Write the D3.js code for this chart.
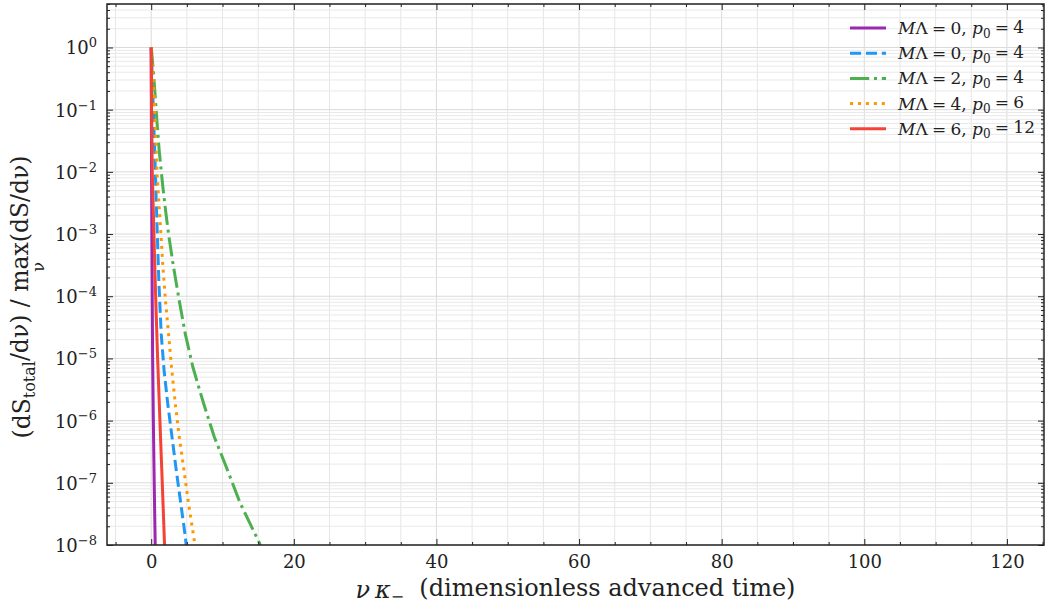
<!DOCTYPE html>
<html>
<head>
<meta charset="utf-8">
<script src="https://cdn.jsdelivr.net/npm/d3@7"></script>
<style>
  body { margin: 0; background: #fff; }
  text { font-family: "DejaVu Serif", serif; fill: #222; }
</style>
</head>
<body>
<script>
// values (x = v*kappa, y = normalised flux)
var purpleX = [0, 0.02, 0.05, 0.09, 0.14, 0.2, 0.3, 0.42, 0.56, 0.6];
var purpleY = [1, 1e-1, 1e-2, 1e-3, 1e-4, 1e-5, 1e-6, 1e-7, 1e-8, 7e-9];

var blueX = [0, 0.3, 0.58, 0.7, 1.08, 1.4, 1.8, 2.31, 3.51, 4.77, 5.0];
var blueY = [1, 1e-1, 1e-2, 3.5e-3, 1.6e-4, 2.5e-5, 6.5e-6, 1.9e-6, 1.6e-7, 1.4e-8, 7.9e-9];

var greenX = [0, 0.32, 0.8, 1.12, 1.58, 1.96, 2.43, 3.13, 3.93, 4.77, 5.85, 7.34, 8.84, 10.7, 12.48, 15.19, 15.6];
var greenY = [1, 0.4, 6.6e-2, 2.2e-2, 6.5e-3, 2.7e-3, 1e-3, 2.95e-4, 8.5e-5, 2.5e-5, 7.2e-6, 1.9e-6, 5.5e-7, 1.6e-7, 4.7e-8, 1.07e-8, 7.9e-9];

var orangeX = [0, 0.42, 0.66, 0.84, 1.12, 1.36, 1.64, 2.0, 2.43, 2.85, 3.37, 3.93, 4.59, 5.23, 6.03, 6.25];
var orangeY = [1, 0.166, 2.8e-2, 8.7e-3, 2.7e-3, 1e-3, 2.95e-4, 8.5e-5, 2.5e-5, 7.2e-6, 1.9e-6, 5.5e-7, 1.6e-7, 4.7e-8, 1.2e-8, 7.9e-9];

var redX = [0, 0.05, 0.15, 0.38, 0.62, 0.9, 1.22, 1.55, 1.87, 1.95];
var redY = [1, 1e-1, 1e-2, 1e-3, 1e-4, 1e-5, 1e-6, 1e-7, 1e-8, 7.5e-9];

var legendML = ["0", "0", "2", "4", "6"];
var legendP0 = ["4", "4", "4", "6", "12"];
var xTicks = [0, 20, 40, 60, 80, 100, 120];
var yExps = [0, -1, -2, -3, -4, -5, -6, -7, -8];

var margin = {top: 4, right: 2, bottom: 60, left: 107},
    width = 1046 - margin.left - margin.right,
    height = 605 - margin.top - margin.bottom;

var x = d3.scaleLinear().domain([-6.2, 125.2]).range([0, width]);
var y = d3.scaleLog().domain([1e-8, 5.0]).range([height, 0]);

var svg = d3.select("body")
    .append("svg")
        .attr("width", width + margin.left + margin.right)
        .attr("height", height + margin.top + margin.bottom)
    .append("g")
        .attr("transform", "translate(" + margin.left + "," + margin.top + ")");

svg.append("clipPath").attr("id", "clip")
  .append("rect").attr("width", width).attr("height", height);

// minor positions
var xMinor = d3.range(-5, 126, 5).filter(function(v) { return v % 20 !== 0; });
var yMajor = yExps.map(function(e) { return Math.pow(10, e); });
var yMinor = [];
yExps.forEach(function(e) {
  for (var m = 2; m <= 9; m++) {
    var v = m * Math.pow(10, e);
    if (v <= 5.0) yMinor.push(v);
  }
});

// grid
var grid = svg.append("g");
grid.selectAll(".gxm").data(xMinor).enter().append("line")
    .attr("x1", x).attr("x2", x).attr("y1", 0).attr("y2", height)
    .style("stroke", "#e6e6e6").style("stroke-width", 1);
grid.selectAll(".gx").data(xTicks).enter().append("line")
    .attr("x1", x).attr("x2", x).attr("y1", 0).attr("y2", height)
    .style("stroke", "#dadada").style("stroke-width", 1);
grid.selectAll(".gym").data(yMinor).enter().append("line")
    .attr("y1", y).attr("y2", y).attr("x1", 0).attr("x2", width)
    .style("stroke", "#e9e9e9").style("stroke-width", 1);
grid.selectAll(".gy").data(yMajor).enter().append("line")
    .attr("y1", y).attr("y2", y).attr("x1", 0).attr("x2", width)
    .style("stroke", "#dadada").style("stroke-width", 1);

// curves
var plotline = d3.line()
    .x(function(d) { return x(d[0]); })
    .y(function(d) { return y(d[1]); });

var curves = [
  {xs: purpleX, ys: purpleY, color: "#9c27b0", dash: null},
  {xs: blueX, ys: blueY, color: "#2196f3", dash: "11.1,4.8"},
  {xs: greenX, ys: greenY, color: "#4caf50", dash: "19.2,4.8,3,4.8"},
  {xs: orangeX, ys: orangeY, color: "#ff9800", dash: "3,4.95"},
  {xs: redX, ys: redY, color: "#f44336", dash: null}
];

var plot = svg.append("g").attr("clip-path", "url(#clip)");
curves.forEach(function(c) {
  plot.append("path")
      .attr("d", plotline(d3.zip(c.xs, c.ys)))
      .style("fill", "none")
      .style("stroke", c.color)
      .style("stroke-width", 3)
      .style("stroke-dasharray", c.dash);
});

// axes, ticks pointing inward on all four sides
function styleAxis(g) {
  g.select(".domain").remove();
  g.selectAll(".tick line").style("stroke", "#222").style("stroke-width", 1);
  g.selectAll("text").style("font-family", "DejaVu Serif").style("font-size", "18px").style("fill", "#222");
}

svg.append("g").attr("transform", "translate(0," + height + ")")
    .call(d3.axisBottom(x).tickValues(xTicks).tickFormat(d3.format("d")).tickSizeInner(-6).tickSizeOuter(0).tickPadding(10))
    .call(styleAxis);
svg.append("g").attr("transform", "translate(0," + height + ")")
    .call(d3.axisBottom(x).tickValues(xMinor).tickFormat("").tickSizeInner(-3).tickSizeOuter(0))
    .call(styleAxis);
svg.append("g")
    .call(d3.axisTop(x).tickValues(xTicks).tickFormat("").tickSizeInner(-6).tickSizeOuter(0))
    .call(styleAxis);
svg.append("g")
    .call(d3.axisTop(x).tickValues(xMinor).tickFormat("").tickSizeInner(-3).tickSizeOuter(0))
    .call(styleAxis);

svg.append("g")
    .call(d3.axisLeft(y).tickValues(yMajor).tickFormat("").tickSizeInner(-6).tickSizeOuter(0))
    .call(styleAxis);
svg.append("g")
    .call(d3.axisLeft(y).tickValues(yMinor).tickFormat("").tickSizeInner(-3).tickSizeOuter(0))
    .call(styleAxis);
svg.append("g").attr("transform", "translate(" + width + ",0)")
    .call(d3.axisRight(y).tickValues(yMajor).tickFormat("").tickSizeInner(-6).tickSizeOuter(0))
    .call(styleAxis);
svg.append("g").attr("transform", "translate(" + width + ",0)")
    .call(d3.axisRight(y).tickValues(yMinor).tickFormat("").tickSizeInner(-3).tickSizeOuter(0))
    .call(styleAxis);

// y tick labels 10^k
yExps.forEach(function(e) {
  var t = svg.append("text")
      .attr("x", -10)
      .attr("y", y(Math.pow(10, e)) + 7)
      .attr("text-anchor", "end")
      .style("font-size", "18px");
  t.append("tspan").text("10");
  t.append("tspan").attr("dy", "-0.55em").style("font-size", "13px")
      .text(e === 0 ? "0" : "\u2212" + (-e));
});

// frame
svg.append("rect")
    .attr("width", width).attr("height", height)
    .style("fill", "none").style("stroke", "#222").style("stroke-width", 1.5);

// x label
var xl = svg.append("text")
    .attr("x", width / 2)
    .attr("y", height + 53)
    .attr("text-anchor", "middle")
    .style("font-size", "24px");
xl.append("tspan").style("font-style", "italic").text("\u03bd\u2009\u03ba");
xl.append("tspan").attr("dy", "0.25em").style("font-size", "16px").text("\u2212");
xl.append("tspan").attr("dy", "-0.25em").attr("xml:space", "preserve").text("\u00a0\u00a0(dimensionless advanced time)");

// y label
var yl = svg.append("g")
    .attr("transform", "translate(" + (22 - margin.left) + "," + (297 - margin.top) + ") rotate(-90)");
var yt = yl.append("text").attr("text-anchor", "middle").attr("y", 8).style("font-size", "23.5px");
yt.append("tspan").text("(dS");
yt.append("tspan").attr("dy", "0.3em").style("font-size", "16px").text("total");
yt.append("tspan").attr("dy", "-0.3em").text("/d\u03bd) / ");
var maxSpan = yt.append("tspan").text("max");
yt.append("tspan").text("(dS/d\u03bd)");
var mx0 = maxSpan.node().getStartPositionOfChar(0).x;
var mx1 = maxSpan.node().getEndPositionOfChar(2).x;
yl.append("text").attr("text-anchor", "middle")
    .attr("x", (mx0 + mx1) / 2).attr("y", 22)
    .style("font-size", "16px").text("\u03bd");

// legend
var legend = svg.append("g").attr("transform", "translate(" + (850 - margin.left) + "," + (28 - margin.top) + ")");
curves.forEach(function(c, i) {
  var row = legend.append("g").attr("transform", "translate(0," + (i * 25.2) + ")");
  row.append("line")
      .attr("x1", 0).attr("x2", 36).attr("y1", 0).attr("y2", 0)
      .style("stroke", c.color).style("stroke-width", 3)
      .style("stroke-dasharray", c.dash);
  var t = row.append("text").attr("x", 48).attr("y", 6).style("font-size", "17px");
  t.append("tspan").style("font-style", "italic").text("M");
  t.append("tspan").text("\u039b\u2005=\u2005" + legendML[i] + ", ");
  t.append("tspan").style("font-style", "italic").text("p");
  t.append("tspan").attr("dy", "0.3em").style("font-size", "12px").text("0");
  t.append("tspan").attr("dy", "-0.3em").text("\u2005=\u2005" + legendP0[i]);
});
</script>
</body>
</html>
